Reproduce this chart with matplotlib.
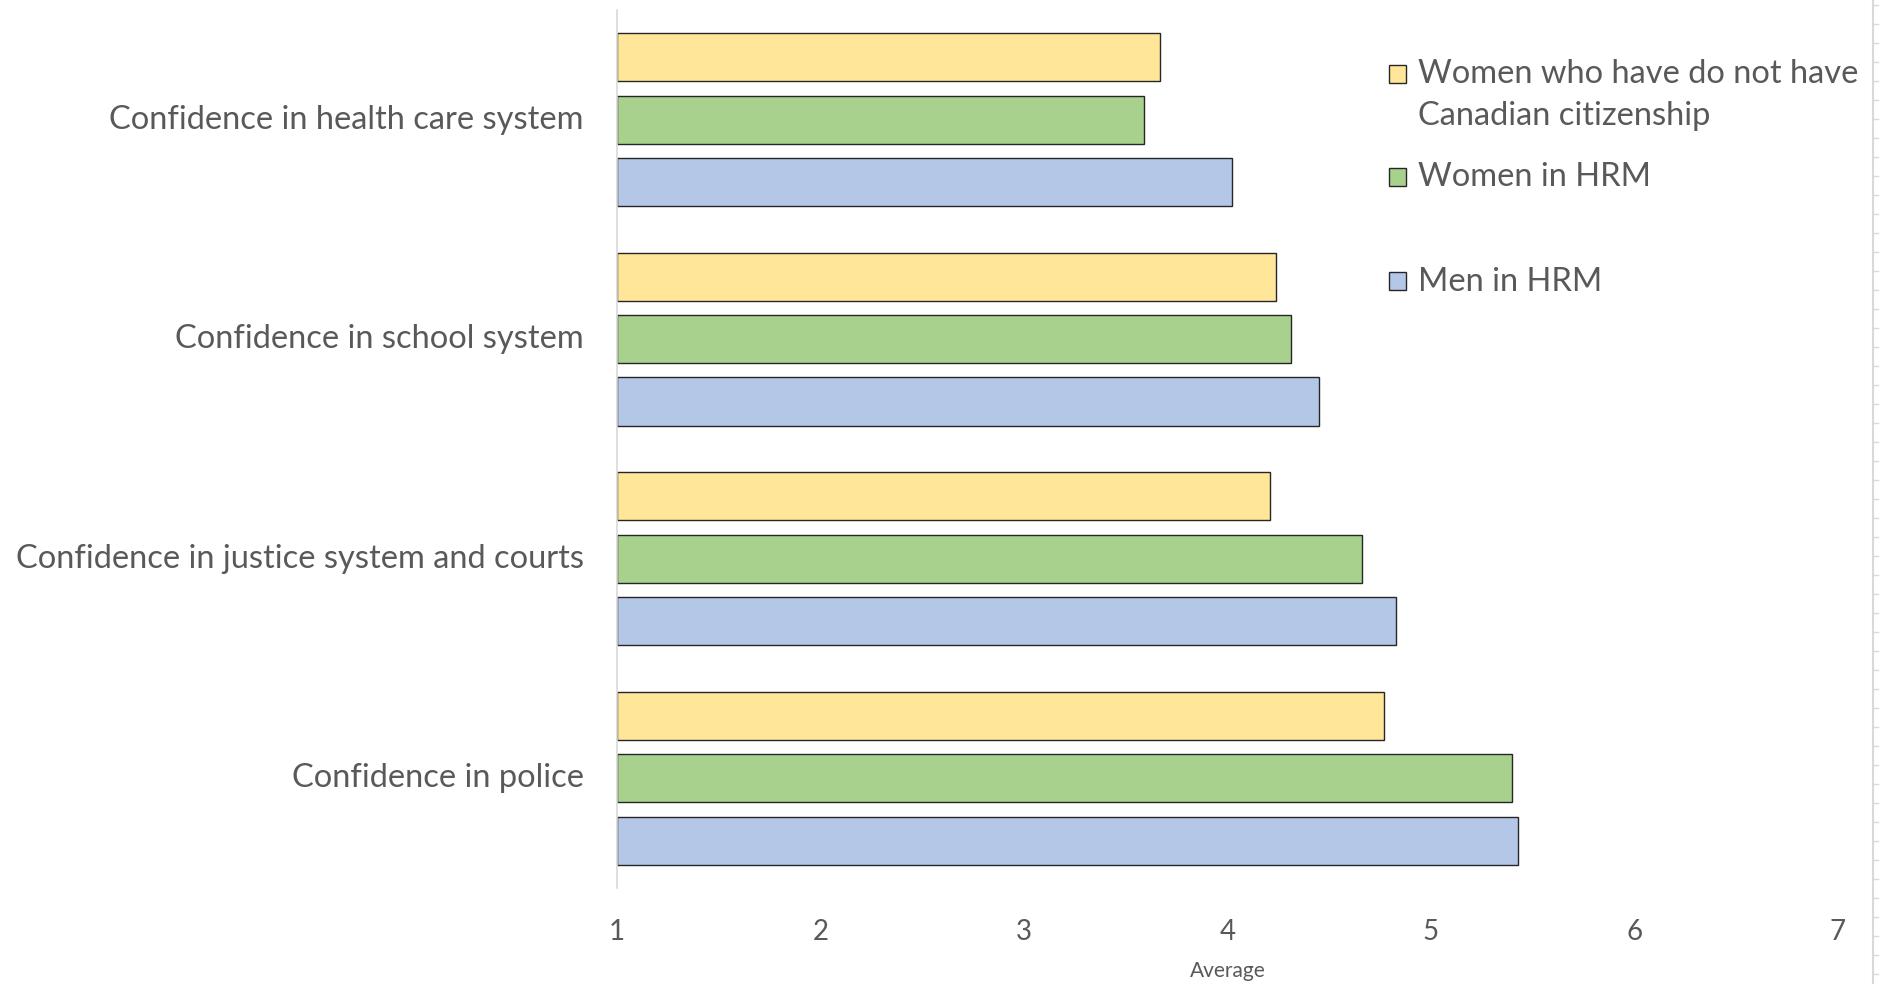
import numpy as np
import matplotlib.pyplot as plt
from matplotlib.patches import Rectangle
from matplotlib.lines import Line2D

plt.rcParams['font.family'] = ['Lato', 'DejaVu Sans']

categories = ['Confidence in health care system', 'Confidence in school system',
              'Confidence in justice system and courts', 'Confidence in police']
series_names = ['Women who have do not have\nCanadian citizenship', 'Women in HRM', 'Men in HRM']
no_citizenship = [3.67, 4.24, 4.21, 4.77]
women_hrm = [3.59, 4.31, 4.66, 5.40]
men_hrm = [4.02, 4.45, 4.83, 5.43]
colors = ['#FFE699', '#A9D18E', '#B4C7E7']
x_ticks = [1, 2, 3, 4, 5, 6, 7]

text_col = '#595959'

fig = plt.figure(figsize=(18.87, 9.84), dpi=100)
ax = fig.add_axes([0.327, 0.0976, 0.647, 0.8924])

y = np.arange(len(categories))
bar_h = 0.219
pitch = 0.284
for i, vals in enumerate([no_citizenship, women_hrm, men_hrm]):
    ax.barh(y + (i - 1) * pitch, np.array(vals) - 1, left=1, height=bar_h,
            color=colors[i], edgecolor='#262626', linewidth=1.0)

ax.set_xlim(1, 7)
ax.set_ylim(len(categories) - 0.5, -0.5)
ax.set_yticks(y)
ax.set_yticklabels(categories, fontsize=23.5, color=text_col, va='center')
ax.set_xticks(x_ticks)
ax.set_xticklabels([str(t) for t in x_ticks], fontsize=20, color=text_col)
ax.tick_params(axis='y', length=0, pad=24)
ax.tick_params(axis='x', length=0, pad=22)
ax.set_xlabel('Average', fontsize=15, color=text_col, labelpad=12)
for lab in ax.get_yticklabels():
    lab.set_y(lab.get_position()[1])

for s in ['top', 'right', 'bottom']:
    ax.spines[s].set_visible(False)
ax.spines['left'].set_color('#D9D9D9')
ax.spines['left'].set_linewidth(1.2)

# legend drawn by hand to keep the uneven spacing of the original
W, H = 1887, 984
sq_y = [74, 177, 281]
txt_top = [59, 162, 267]
for name, col, sy, ty in zip(series_names, colors, sq_y, txt_top):
    sq = 17
    fig.add_artist(Rectangle((1389 / W, 1 - (sy + sq / 2) / H), sq / W, sq / H,
                             transform=fig.transFigure, facecolor=col,
                             edgecolor='#262626', linewidth=1.0))
    fig.text(1418 / W, 1 - ty / H, name, fontsize=23.5, color=text_col,
             va='top', ha='left', linespacing=1.5)

# spreadsheet border on the right edge
fig.add_artist(Line2D([1873 / W, 1873 / W], [0, 1], transform=fig.transFigure,
                      color='#D9D9D9', linewidth=1.5))
for tk in np.arange(5, H, 19):
    fig.add_artist(Line2D([1874 / W, 1878 / W], [1 - tk / H, 1 - tk / H],
                          transform=fig.transFigure, color='#D9D9D9', linewidth=1))

fig.savefig('out.png', dpi=100, facecolor='white')
